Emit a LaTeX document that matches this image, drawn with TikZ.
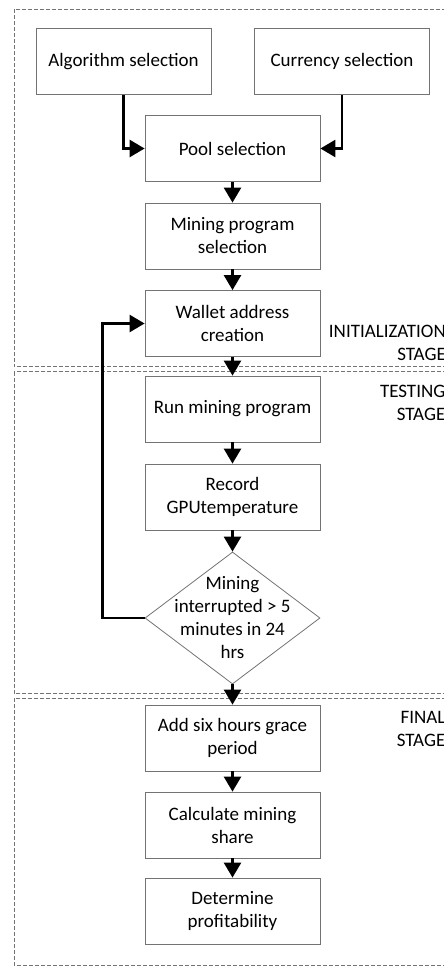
\documentclass[tikz,border=0pt]{standalone}
\usepackage{fontspec}
\setmainfont{Carlito}
\usetikzlibrary{arrows.meta,positioning,shapes.geometric}

\begin{document}
\begin{tikzpicture}[x=1pt,y=-1pt,
  box/.style={draw=black!55, line width=0.8pt, minimum width=175pt, minimum height=66pt,
    inner sep=0pt, align=center, font=\fontsize{19}{23}\selectfont},
  decision/.style={draw=black!55, line width=0.8pt, diamond, minimum width=175pt,
    minimum height=132pt, inner sep=0pt},
  flow/.style={line width=2.5pt, -{Triangle[length=15pt,width=17pt]}},
  stagebox/.style={draw=black!55, line width=0.6pt, dash pattern=on 4pt off 2pt},
  stagelabel/.style={anchor=north east, inner sep=0pt, align=right,
    font=\fontsize{19}{23}\selectfont}]
  \useasboundingbox (0,0) rectangle (444,966);
  \clip (0,0) rectangle (444,966);

  % stage frames
  \draw[stagebox] (14,9.5) rectangle (470,366.5);
  \draw[stagebox] (14,371.5) rectangle (470,693);
  \draw[stagebox] (14,698) rectangle (470,965);
  \node[stagelabel] (initlbl) at (446,325) {INITIALIZATION\\STAGE};
  \node[stagelabel] (testlbl) at (445.5,385) {TESTING\\STAGE};
  \node[stagelabel] (finallbl) at (445.5,711) {FINAL\\STAGE};

  % initialization
  \node[box] (algo) at (123.5,61.5) {Algorithm selection};
  \node[box] (coin) at (342,61.5) {Currency selection};
  \node[box] (pool) at (232.5,148.5) {Pool selection};
  \node[box] (miner) at (232.5,236) {Mining program\\selection};
  \node[box] (wallet) at (232.5,323.5) {Wallet address\\creation};

  % testing
  \node[box] (run) at (232.5,409) {Run mining program};
  \node[box] (temp) at (232.5,497) {Record\\GPUtemperature};
  \node[decision] (check) at (232.5,618) {};
  \node[align=center, inner sep=0pt, font=\fontsize{19}{23}\selectfont] (checktxt) at (check)
    {Mining\\interrupted > 5\\minutes in 24\\hrs};

  % final
  \node[box] (grace) at (232.5,738) {Add six hours grace\\period};
  \node[box] (share) at (232.5,825) {Calculate mining\\share};
  \node[box] (profit) at (232.5,911) {Determine\\profitability};

  \draw[flow] (algo.south) |- (pool.west);
  \draw[flow] (coin.south) |- (pool.east);
  \draw[flow] (pool) -- (miner);
  \draw[flow] (miner) -- (wallet);
  \draw[flow] (wallet) -- (run);
  \draw[flow] (run) -- (temp);
  \draw[flow] (temp) -- (check);
  \draw[flow] (check) -- (grace);
  \draw[flow] (grace) -- (share);
  \draw[flow] (share) -- (profit);
  \draw[flow] (check.west) -- ++(-42,0) |- (wallet.west);
\end{tikzpicture}
\end{document}
